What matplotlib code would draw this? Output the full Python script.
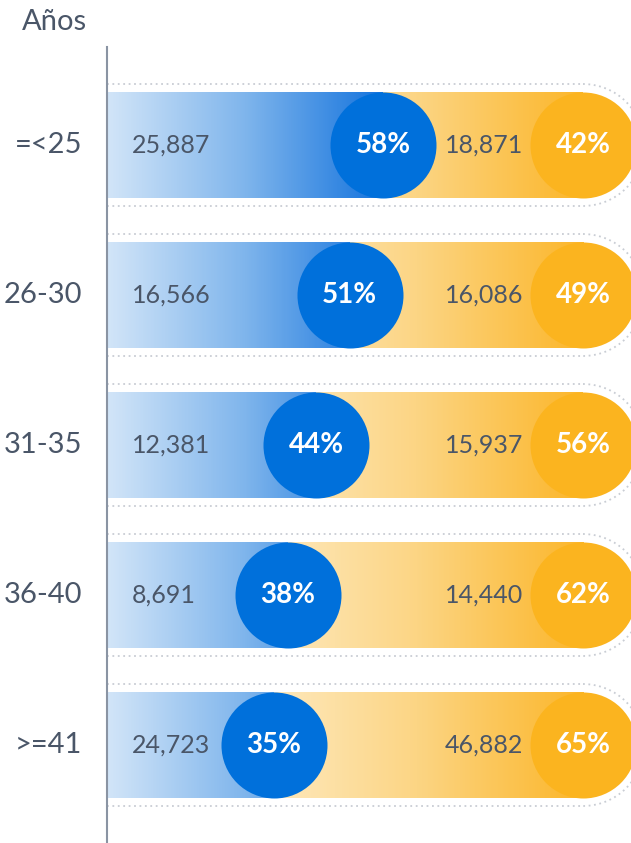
import matplotlib
matplotlib.use("Agg")
import matplotlib.pyplot as plt
import numpy as np
from matplotlib.colors import LinearSegmentedColormap
from matplotlib.patches import Arc

plt.rcParams['font.family'] = ['Lato', 'DejaVu Sans']

# datos
grupos = ["=<25", "26-30", "31-35", "36-40", ">=41"]
valores_a = [25887, 16566, 12381, 8691, 24723]
valores_b = [18871, 16086, 15937, 14440, 46882]
pct_a = [58, 51, 44, 38, 35]
pct_b = [42, 49, 56, 62, 65]

# colores
azul = "#0070db"
amarillo = "#fbb41f"
gris_texto = "#4a5668"
cmap_azul = LinearSegmentedColormap.from_list("az", ["#d2e5f8", "#7fb5ec", "#1473dd"])
cmap_amar = LinearSegmentedColormap.from_list("am", ["#feebc4", "#fcd584", "#fbb62a"])

W, H = 631, 843
fig = plt.figure(figsize=(W / 100, H / 100), dpi=100)
ax = fig.add_axes([0, 0, 1, 1])

# escala: 0% -> x=107px, 100% -> x=583px ; filas cada 150px empezando en 145px
px_x = 4.76
px_y = 150.0
ax.set_xlim(-107 / px_x, (W - 107) / px_x)
ax.set_ylim((H - 145) / px_y, -145 / px_y)
ax.axis("off")

alto = 106 / px_y
d_circ = 106 * 72 / 100  # diametro en puntos

for i, g in enumerate(grupos):
    y0, y1 = i - alto / 2, i + alto / 2
    pa = pct_a[i]

    # contorno punteado
    r_out = 61
    ax.plot([0, 100], [i - r_out / px_y] * 2, color="#c9cdd4", lw=1.3,
            ls=(0, (1, 2)), zorder=1)
    ax.plot([0, 100], [i + r_out / px_y] * 2, color="#c9cdd4", lw=1.3,
            ls=(0, (1, 2)), zorder=1)
    ax.add_patch(Arc((100, i), 2 * r_out / px_x, 2 * r_out / px_y, theta1=-90, theta2=90,
                     color="#c9cdd4", lw=1.3, ls=(0, (1, 2)), zorder=1))

    # barras con degradado
    ax.imshow(np.linspace(0, pa, 256)[None, :], cmap=cmap_azul, vmin=0, vmax=58,
              extent=[0, pa, y1, y0], aspect="auto", zorder=2, interpolation="bilinear")
    ax.imshow(np.linspace(pa, 100, 256)[None, :], cmap=cmap_amar, vmin=30, vmax=100,
              extent=[pa, 100, y1, y0], aspect="auto", zorder=2, interpolation="bilinear")

    # circulos
    ax.scatter([100], [i], s=d_circ ** 2, color=amarillo, linewidths=0, zorder=3)
    ax.scatter([pa], [i], s=d_circ ** 2, color=azul, linewidths=0, zorder=4)

    # textos
    ax.text(pa, i, f"{pa}%", color="white", fontsize=20, fontweight="bold",
            ha="center", va="center", zorder=5)
    ax.text(100, i, f"{pct_b[i]}%", color="white", fontsize=20, fontweight="bold",
            ha="center", va="center", zorder=5)
    ax.text(25 / px_x, i, f"{valores_a[i]:,}", color=gris_texto, fontsize=18,
            ha="left", va="center", zorder=5)
    ax.text(416 / px_x, i, f"{valores_b[i]:,}", color=gris_texto, fontsize=18,
            ha="right", va="center", zorder=5)
    ax.text(-25 / px_x, i, g, color=gris_texto, fontsize=21,
            ha="right", va="center", zorder=5)

# eje vertical
ax.plot([0, 0], [(47 - 145) / px_y, (H - 145) / px_y], color="#8a94a3", lw=1.5, zorder=6)
ax.text(-85 / px_x, (22 - 145) / px_y, "Años", color=gris_texto, fontsize=21,
        ha="left", va="center")

fig.savefig("out.png", dpi=100)
